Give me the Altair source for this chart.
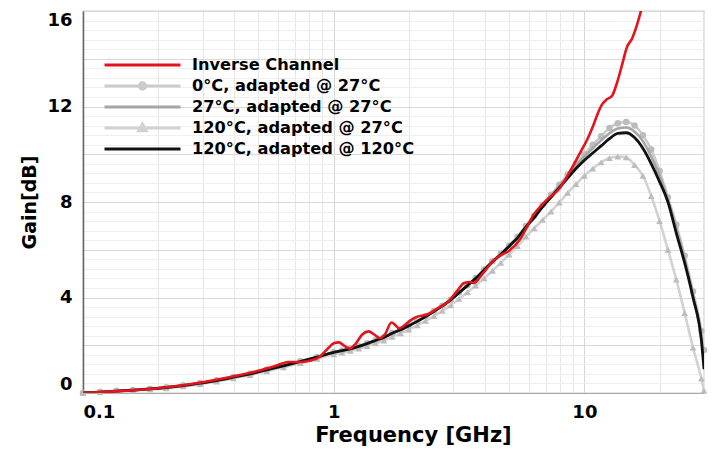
import altair as alt
import pandas as pd

SERIES = ["Inverse Channel", "0°C, adapted @ 27°C", "27°C, adapted @ 27°C",
          "120°C, adapted @ 27°C", "120°C, adapted @ 120°C"]
COLORS = ["#e3141b", "#cbcbcb", "#a5a5a5", "#d2d2d2", "#111111"]
MARKER_COLOR = "#bcbcbc"

# Frequency grid (GHz) of the simulated temperature curves
FREQ = [0.1, 0.117, 0.136, 0.158, 0.185, 0.215, 0.251, 0.293, 0.341, 0.398, 0.464, 0.541, 0.631, 0.736, 0.858,
        1.0, 1.08, 1.166, 1.259, 1.359, 1.468, 1.585, 1.711, 1.848, 1.995, 2.154, 2.326, 2.512, 2.712, 2.929,
        3.162, 3.415, 3.687, 3.981, 4.299, 4.642, 5.012, 5.412, 5.843, 6.31, 6.813, 7.356, 7.943, 8.577, 9.261,
        10.0, 10.8, 11.66, 12.59, 13.59, 14.68, 15.85, 17.11, 18.48, 19.95, 21.54, 23.26, 25.12, 27.12, 29.29, 30.0]

G_0C_27 = [0.0, 0.05, 0.09, 0.13, 0.18, 0.24, 0.32, 0.42, 0.53, 0.67, 0.81, 0.98, 1.15, 1.33, 1.51,
           1.71, 1.78, 1.86, 1.96, 2.08, 2.21, 2.34, 2.51, 2.66, 2.83, 3.01, 3.21, 3.43, 3.66, 3.91,
           4.21, 4.51, 4.82, 5.17, 5.52, 5.83, 6.18, 6.55, 7.0, 7.42, 7.88, 8.3, 8.72, 9.15, 9.6,
           10.0, 10.4, 10.75, 11.1, 11.3, 11.35, 11.2, 10.8, 10.2, 9.3, 8.2, 7.05, 5.75, 4.25, 2.6, 1.8]

G_27C_27 = [0.0, 0.04, 0.08, 0.12, 0.17, 0.23, 0.31, 0.41, 0.52, 0.66, 0.8, 0.97, 1.14, 1.32, 1.5,
            1.7, 1.77, 1.85, 1.95, 2.07, 2.2, 2.33, 2.5, 2.65, 2.82, 3.0, 3.2, 3.42, 3.65, 3.9,
            4.2, 4.5, 4.81, 5.16, 5.51, 5.82, 6.17, 6.52, 6.97, 7.4, 7.85, 8.26, 8.68, 9.1, 9.52,
            9.9, 10.25, 10.58, 10.88, 11.08, 11.12, 10.95, 10.55, 9.9, 9.1, 8.1, 6.9, 5.6, 4.1, 2.3, 1.3]

G_120C_27 = [0.0, 0.03, 0.07, 0.1, 0.15, 0.2, 0.28, 0.37, 0.48, 0.61, 0.75, 0.91, 1.08, 1.25, 1.43,
             1.62, 1.69, 1.77, 1.86, 1.97, 2.08, 2.2, 2.35, 2.5, 2.66, 2.83, 3.02, 3.22, 3.44, 3.67,
             3.94, 4.22, 4.5, 4.8, 5.12, 5.45, 5.8, 6.15, 6.55, 6.9, 7.25, 7.6, 7.98, 8.38, 8.75,
             9.1, 9.4, 9.66, 9.84, 9.9, 9.87, 9.55, 9.1, 8.25, 7.2, 6.0, 4.75, 3.35, 1.9, 0.6, 0.1]

G_120C_120 = [0.0, 0.04, 0.08, 0.12, 0.17, 0.23, 0.31, 0.41, 0.52, 0.66, 0.8, 0.97, 1.14, 1.32, 1.5,
              1.7, 1.77, 1.85, 1.95, 2.07, 2.2, 2.33, 2.5, 2.65, 2.82, 3.0, 3.2, 3.42, 3.65, 3.9,
              4.2, 4.5, 4.8, 5.15, 5.5, 5.8, 6.15, 6.5, 6.95, 7.35, 7.8, 8.2, 8.6, 9.0, 9.4,
              9.75, 10.05, 10.35, 10.65, 10.87, 10.9, 10.7, 10.25, 9.6, 8.85, 8.0, 6.7, 5.45, 4.0, 2.2, 1.0]

# Inverse channel
RED_F = [0.1, 0.15, 0.2, 0.3, 0.4, 0.5, 0.58, 0.66, 0.74, 0.81, 0.88, 0.94, 1.0, 1.05, 1.1, 1.16, 1.22, 1.3,
         1.38, 1.45, 1.53, 1.6, 1.7, 1.76, 1.82, 1.9, 2.0, 2.1, 2.37, 2.6, 2.85, 3.12, 3.3, 3.5, 3.62, 3.93,
         4.3, 4.6, 5.0, 5.55, 6.26, 7.1, 8.0, 8.4, 9.0, 9.6, 10.3, 10.85, 11.3, 11.7, 12.3, 12.9, 13.5, 14.1,
         14.8, 15.5, 16.3, 17.0, 18.0]
RED_G = [0.0, 0.1, 0.2, 0.45, 0.7, 0.93, 1.12, 1.3, 1.3, 1.36, 1.52, 1.82, 2.08, 2.12, 1.98, 1.86, 2.05, 2.45,
         2.58, 2.45, 2.3, 2.45, 2.95, 2.85, 2.7, 2.8, 3.0, 3.15, 3.3, 3.55, 3.8, 4.3, 4.6, 4.65, 4.6, 5.0,
         5.5, 5.75, 5.95, 6.45, 7.45, 8.1, 8.6, 8.95, 9.5, 10.05, 10.65, 11.2, 11.7, 12.05, 12.3, 12.45, 13.0,
         13.7, 14.5, 14.85, 15.5, 16.2, 17.3]

X_TICKS = [0.1, 0.2, 0.3, 0.4, 0.5, 0.6, 0.7, 0.8, 0.9, 1, 2, 3, 4, 5, 6, 7, 8, 9, 10, 20, 30]
Y_TICKS = [round(0.4 * k, 1) for k in range(41)]

# legend symbols: a line, optionally with a marker in the middle
SHAPES = [
    "M-1,0H1",
    "M-1,0H1M0.085,0A0.085,0.085,0,1,1,-0.085,0A0.085,0.085,0,1,1,0.085,0Z",
    "M-1,0H1",
    "M-1,0H1M0,-0.105L0.1,0.07L-0.1,0.07Z",
    "M-1,0H1",
]

FONT = "DejaVu Sans"

df_gray = pd.DataFrame({"f": FREQ, "g0": G_0C_27, "g27": G_27C_27,
                        "g120a": G_120C_27, "g120": G_120C_120})
df_red = pd.DataFrame({"f": RED_F, "g": RED_G, "series": SERIES[0]})

x_axis = alt.Axis(
    values=X_TICKS,
    labelExpr="datum.value == 0.1 ? '0.1' : datum.value == 1 ? '1' : datum.value == 10 ? '10' : ''",
    title="Frequency [GHz]", ticks=False, tickSize=0, labelFlush=True, labelOverlap=False,
    labelBound=False, domain=True, domainColor="#a8a8a8", domainWidth=1.2,
    gridColor=alt.condition("datum.value == 1 || datum.value == 10", alt.value("#d4d4d4"), alt.value("#e6e6e6")),
    gridWidth=1, labelFont=FONT, labelFontWeight="bold", labelFontSize=18, labelColor="black",
    labelPadding=10, titleFont=FONT, titleFontWeight="bold", titleFontSize=21, titleColor="black",
    titlePadding=3, titleX=330, titleAlign="center",
)
y_axis = alt.Axis(
    values=Y_TICKS,
    labelExpr="abs(datum.value - 4*round(datum.value/4)) < 0.01 ? format(datum.value, '.0f') : ''",
    title="Gain[dB]", ticks=False, tickSize=0, labelFlush=True, labelOverlap=False, labelBound=False,
    domain=True, domainColor="#666666", domainWidth=1.5,
    gridColor=alt.condition("abs(datum.value - 2*round(datum.value/2)) < 0.01",
                            alt.value("#d9d9d9"), alt.value("#efefef")),
    gridWidth=1, labelFont=FONT, labelFontWeight="bold", labelFontSize=18, labelColor="black",
    labelPadding=11, titleFont=FONT, titleFontWeight="bold", titleFontSize=19, titleColor="black",
    titlePadding=7,
)

x_enc = alt.X("f:Q", scale=alt.Scale(type="log", domain=[0.1, 30], nice=False), axis=x_axis)


def y_enc(field):
    return alt.Y(f"{field}:Q", scale=alt.Scale(domain=[0, 16], nice=False), axis=y_axis)


base = alt.Chart(df_gray)


def line(field, color, width):
    return base.mark_line(interpolate="monotone", clip=True, strokeWidth=width, color=color).encode(
        x=x_enc, y=y_enc(field))


tri_line = line("g120a", COLORS[3], 2.6)
tri_pts = base.mark_point(shape="triangle-up", filled=True, size=46, opacity=1, color=MARKER_COLOR).encode(
    x=x_enc, y=y_enc("g120a"))
circ_line = line("g0", COLORS[1], 2.6)
circ_pts = base.mark_point(shape="circle", filled=True, size=42, opacity=1, color=MARKER_COLOR).encode(
    x=x_enc, y=y_enc("g0"))
mid_line = line("g27", COLORS[2], 2.6)
black_line = line("g120", COLORS[4], 2.8)
red_line = alt.Chart(df_red).mark_line(interpolate="monotone", clip=True, strokeWidth=2.6,
                                       color=COLORS[0]).encode(x=x_enc, y=y_enc("g"))

legend = alt.Legend(
    orient="none", legendX=20, legendY=44, title=None, symbolSize=5776, symbolStrokeWidth=3,
    clipHeight=20, rowPadding=1, padding=0, labelFont=FONT, labelFontWeight="bold", labelFontSize=16.2,
    labelColor="black", labelOffset=10, labelLimit=400, symbolOpacity=1, labelBaseline="middle",
)
legend_layer = alt.Chart(df_red).transform_filter("false").mark_point(
    filled=False, fill=MARKER_COLOR, opacity=1, strokeWidth=3, size=5776).encode(
    x=x_enc, y=y_enc("g"),
    color=alt.Color("series:N", scale=alt.Scale(domain=SERIES, range=COLORS), legend=legend),
    shape=alt.Shape("series:N", scale=alt.Scale(domain=SERIES, range=SHAPES), legend=legend),
)

chart = alt.layer(
    tri_line, tri_pts, circ_line, circ_pts, mid_line, black_line, red_line, legend_layer
).properties(
    width=621, height=382,
    padding={"left": 83, "top": 11, "right": 14, "bottom": 61},
    autosize=alt.AutoSizeParams(type="none"),
    background="white",
).configure_view(stroke="#a0a0a0", strokeWidth=1.2)

chart.save("out.html", embed_options={"renderer": "svg", "actions": False})
